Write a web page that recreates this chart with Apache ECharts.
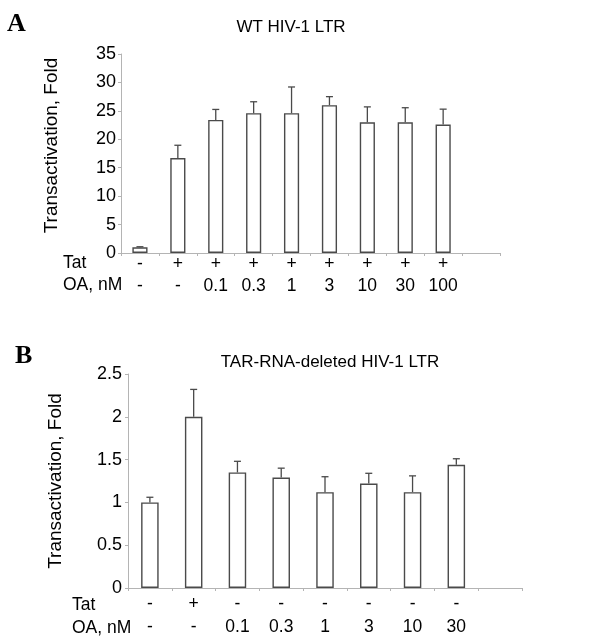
<!DOCTYPE html>
<html>
<head>
<meta charset="utf-8">
<script src="https://cdn.jsdelivr.net/npm/echarts@6/dist/echarts.min.js"></script>
<style>
  html, body { margin: 0; padding: 0; background: #fff; }
  #chart { width: 600px; height: 642px; }
</style>
</head>
<body>
<div id="chart"></div>
<script>
// panel A: WT HIV-1 LTR
const tatA = ['-', '+', '+', '+', '+', '+', '+', '+', '+', '']
const oaA = ['-', '-', '0.1', '0.3', '1', '3', '10', '30', '100', '']
const meanA = [1.0, 16.7, 23.4, 24.6, 24.6, 26.0, 23.0, 23.0, 22.6]
const errA = [0.1, 2.25, 1.85, 2.0, 4.6, 1.5, 2.7, 2.55, 2.7]

// panel B: TAR-RNA-deleted HIV-1 LTR
const tatB = ['-', '+', '-', '-', '-', '-', '-', '-', '']
const oaB = ['-', '-', '0.1', '0.3', '1', '3', '10', '30', '']
const meanB = [1.0, 2.0, 1.35, 1.29, 1.12, 1.22, 1.12, 1.44]
const errB = [0.06, 0.32, 0.13, 0.11, 0.18, 0.12, 0.19, 0.07]

const FONT = '"Liberation Sans", Arial, sans-serif'
const FS = 17.5
const AXIS_GRAY = '#b4b4b4'
const BAR_EDGE = '#4a4a4a'

const chart = echarts.init(document.getElementById('chart'), null, { renderer: 'canvas' })

function xAxisFor(gridIndex, tat, oa, margin, lineHeight) {
  return {
    type: 'category',
    gridIndex,
    data: tat.map((t, i) => String(i)),
    axisLine: { lineStyle: { color: AXIS_GRAY, width: 1 } },
    axisTick: { show: true, length: 3, lineStyle: { color: AXIS_GRAY } },
    axisLabel: {
      margin,
      interval: 0,
      formatter: v => `{r|${tat[+v]}}\n{r|${oa[+v]}}`,
      rich: { r: { fontSize: FS, lineHeight, fontFamily: FONT, color: '#000' } },
    },
  }
}

function yAxisFor(gridIndex, max, interval, nameGap, margin, namePad) {
  return {
    type: 'value',
    gridIndex,
    min: 0,
    max,
    interval,
    name: 'Transactivation, Fold',
    nameLocation: 'middle',
    nameGap,
    nameTextStyle: { fontSize: 19, fontFamily: FONT, color: '#000', padding: namePad },
    axisLine: { show: true, lineStyle: { color: AXIS_GRAY, width: 1 } },
    axisTick: { show: true, length: 3, lineStyle: { color: AXIS_GRAY } },
    axisLabel: { margin, fontSize: 18, fontFamily: FONT, color: '#000' },
    splitLine: { show: false },
  }
}

function barSeries(idx, mean) {
  return {
    type: 'bar',
    xAxisIndex: idx,
    yAxisIndex: idx,
    data: mean,
    barWidth: '40%',
    itemStyle: { color: '#fff', borderColor: BAR_EDGE, borderWidth: 1.4 },
    silent: true,
  }
}

// error bars: stem from the bar top upward with a small cap
function errSeries(idx, mean, err) {
  return {
    type: 'custom',
    xAxisIndex: idx,
    yAxisIndex: idx,
    data: mean.map((m, i) => [i, m, err[i]]),
    renderItem: (params, api) => {
      const base = api.coord([api.value(0), api.value(1)])
      const top = api.coord([api.value(0), api.value(1) + api.value(2)])
      const style = { stroke: BAR_EDGE, lineWidth: 1.3 }
      return {
        type: 'group',
        children: [
          { type: 'line', shape: { x1: base[0], y1: base[1], x2: top[0], y2: top[1] }, style },
          { type: 'line', shape: { x1: top[0] - 3.5, y1: top[1], x2: top[0] + 3.5, y2: top[1] }, style },
        ],
      }
    },
    z: 3,
    silent: true,
  }
}

const option = {
  backgroundColor: '#fff',
  animation: false,
  title: [
    { text: 'WT HIV-1 LTR', left: 286, top: 14, textAlign: 'center',
      textStyle: { fontSize: 17, fontWeight: 'normal', fontFamily: FONT, color: '#000' } },
    { text: 'TAR-RNA-deleted HIV-1 LTR', left: 325, top: 349, textAlign: 'center',
      textStyle: { fontSize: 17, fontWeight: 'normal', fontFamily: FONT, color: '#000' } },
  ],
  grid: [
    { left: 121, top: 54, width: 379, height: 199 },
    { left: 128, top: 374, width: 394, height: 214 },
  ],
  xAxis: [xAxisFor(0, tatA, oaA, 0, 22), xAxisFor(1, tatB, oaB, 5, 23)],
  yAxis: [
    yAxisFor(0, 35, 5, 60, 5, [0, 0, 0, 16]),
    yAxisFor(1, 2.5, 0.5, 63, 6, 0),
  ],
  series: [
    barSeries(0, meanA),
    errSeries(0, meanA, errA),
    barSeries(1, meanB),
    errSeries(1, meanB, errB),
  ],
  graphic: [
    { type: 'text', left: 7, top: 11, style: { text: 'A', font: 'bold 26px "Liberation Serif", "Times New Roman", serif', fill: '#000' } },
    { type: 'text', left: 15, top: 343, style: { text: 'B', font: 'bold 26px "Liberation Serif", "Times New Roman", serif', fill: '#000' } },
    { type: 'text', left: 63, top: 254, style: { text: 'Tat', font: FS + 'px ' + FONT, fill: '#000' } },
    { type: 'text', left: 63, top: 276, style: { text: 'OA, nM', font: FS + 'px ' + FONT, fill: '#000' } },
    { type: 'text', left: 72, top: 596, style: { text: 'Tat', font: FS + 'px ' + FONT, fill: '#000' } },
    { type: 'text', left: 72, top: 619, style: { text: 'OA, nM', font: FS + 'px ' + FONT, fill: '#000' } },
  ],
}

chart.setOption(option)
</script>
</body>
</html>
